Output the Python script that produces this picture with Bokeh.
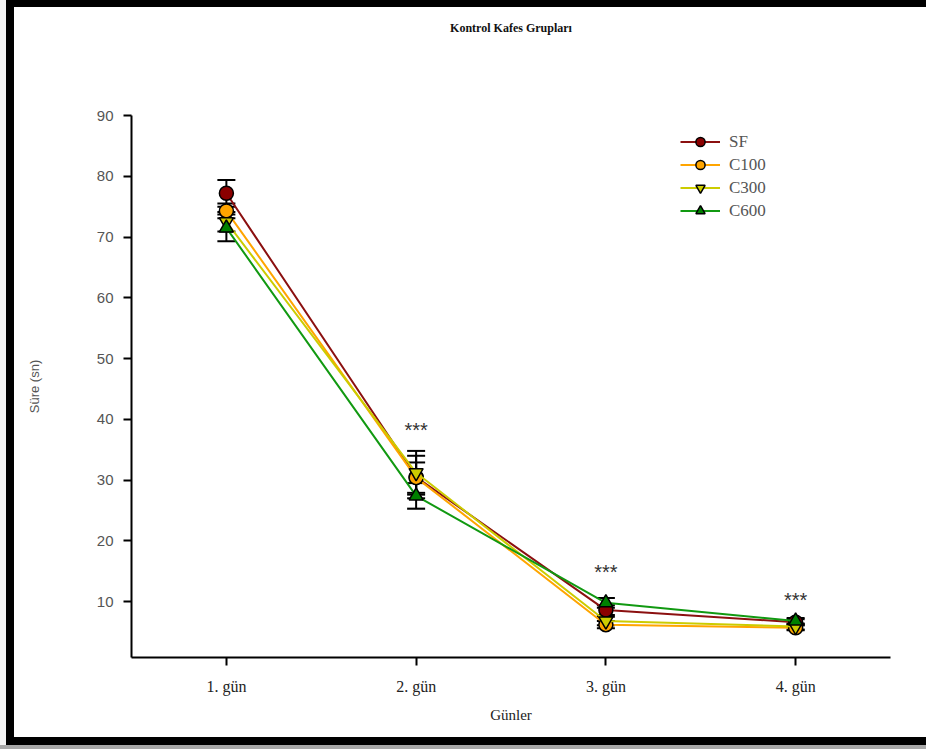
from bokeh.plotting import figure
from bokeh.models import (ColumnDataSource, Whisker, TeeHead, FixedTicker, Range1d,
                          LinearAxis)
from bokeh.core.properties import value
from bokeh.embed import file_html
from bokeh.resources import INLINE

# ---- data ----
title_text = "Kontrol Kafes Grupları"
days = [1, 2, 3, 4]
day_labels = ["1. gün", "2. gün", "3. gün", "4. gün"]
series_names = ["SF", "C100", "C300", "C600"]
sf = [77.2, 30.5, 8.6, 6.6]
sf_err = [2.2, 3.5, 0.8, 0.5]
c100 = [74.3, 30.4, 6.2, 5.7]
c100_err = [1.2, 2.5, 0.6, 0.4]
c300 = [72.5, 31.2, 6.8, 5.9]
c300_err = [1.6, 3.6, 0.7, 0.5]
c600 = [71.5, 27.4, 9.8, 6.8]
c600_err = [2.2, 2.1, 0.8, 0.5]
star_days = [2, 3, 4]
star_y = [38.2, 14.8, 10.2]
y_ticks = [10, 20, 30, 40, 50, 60, 70, 80, 90]

W, H = 926, 749
p = figure(width=W, height=H, output_backend="svg", toolbar_location=None,
           x_range=Range1d(0.5, 4.5), y_range=Range1d(0.8, 90),
           min_border_left=131, min_border_right=36,
           min_border_top=115, min_border_bottom=92)
p.border_fill_color = None
p.background_fill_color = None
p.outline_line_color = None
p.grid.visible = False
p.styles = {"box-shadow": ("inset 0 -4px 0 0 #a8a8a8, inset 6px 0 0 0 #f4f4f4, "
                           "inset 14px 0 0 0 #000000, inset 0 7px 0 0 #000000, "
                           "inset 0 -12px 0 0 #000000")}

serif = "Liberation Serif"
sans = "Liberation Sans"

xax = p.below[0]
yax = p.left[0]

# chart title: label of a tick-less axis above the frame
top_axis = LinearAxis(ticker=FixedTicker(ticks=[]), axis_line_color=None,
                      major_tick_line_color=None, minor_tick_line_color=None,
                      major_tick_out=0, major_tick_in=0,
                      axis_label=title_text, axis_label_standoff=81,
                      axis_label_text_font=serif,
                      axis_label_text_font_size="12px",
                      axis_label_text_font_style="bold",
                      axis_label_text_color="#111111")
p.add_layout(top_axis, "above")

# axes
xax.ticker = FixedTicker(ticks=days)
xax.major_label_overrides = {d: l for d, l in zip(days, day_labels)}
yax.ticker = FixedTicker(ticks=y_ticks)
for ax in (xax, yax):
    ax.axis_line_width = 2
    ax.axis_line_color = "black"
    ax.major_tick_line_width = 2
    ax.major_tick_line_color = "black"
    ax.major_tick_out = 8
    ax.major_tick_in = 0
    ax.minor_tick_line_color = None
xax.major_label_text_font = serif
xax.major_label_text_font_size = "16px"
xax.major_label_text_color = "#222222"
xax.major_label_standoff = 12
xax.axis_label = "Günler"
xax.axis_label_text_font = serif
xax.axis_label_text_font_size = "15px"
xax.axis_label_text_font_style = "normal"
xax.axis_label_text_color = "#222222"
xax.axis_label_standoff = 9

yax.major_label_text_font = sans
yax.major_label_text_font_size = "15px"
yax.major_label_text_color = "#555555"
yax.major_label_standoff = 10
yax.axis_label = "Süre (sn)"
yax.axis_label_text_font = sans
yax.axis_label_text_font_size = "13px"
yax.axis_label_text_font_style = "normal"
yax.axis_label_text_color = "#555555"
yax.axis_label_standoff = 52

styles = [
    ("SF", sf, sf_err, "#8B1010", "#8B0000", "circle"),
    ("C100", c100, c100_err, "#FFA500", "#FFA500", "circle"),
    ("C300", c300, c300_err, "#CCCC00", "#CCCC00", "inverted_triangle"),
    ("C600", c600, c600_err, "#119911", "#008000", "triangle"),
]

for name, vals, errs, lc, fc, marker in styles:
    src = ColumnDataSource(dict(
        x=days, y=vals,
        upper=[v + e for v, e in zip(vals, errs)],
        lower=[v - e for v, e in zip(vals, errs)]))
    w = Whisker(source=src, base="x", upper="upper", lower="lower",
                dimension="height", line_color="black", line_width=2,
                upper_head=TeeHead(size=18, line_width=2, line_color="black"),
                lower_head=TeeHead(size=18, line_width=2, line_color="black"),
                level="underlay")
    p.add_layout(w)

for name, vals, errs, lc, fc, marker in styles:
    src = ColumnDataSource(dict(x=days, y=vals))
    p.line("x", "y", source=src, line_color=lc, line_width=2, legend_label=name)
    p.scatter("x", "y", source=src, marker=marker, size=14, fill_color=fc,
              line_color="black", line_width=1.5, legend_label=name)

p.text(x=star_days, y=star_y, text=["***"] * len(star_days),
       text_font=value(sans), text_font_size="20px", text_color="#333333",
       text_align="center", text_baseline="middle")

lg = p.legend[0]
lg.location = (549, 435)
lg.background_fill_alpha = 0
lg.border_line_color = None
lg.padding = 0
lg.margin = 0
lg.spacing = 0
lg.glyph_width = 40
lg.glyph_height = 23
lg.label_standoff = 9
lg.label_text_font = serif
lg.label_text_font_size = "17px"
lg.label_text_color = "#555555"
lg.label_height = 23

open("out.html", "w").write(file_html(p, INLINE))
